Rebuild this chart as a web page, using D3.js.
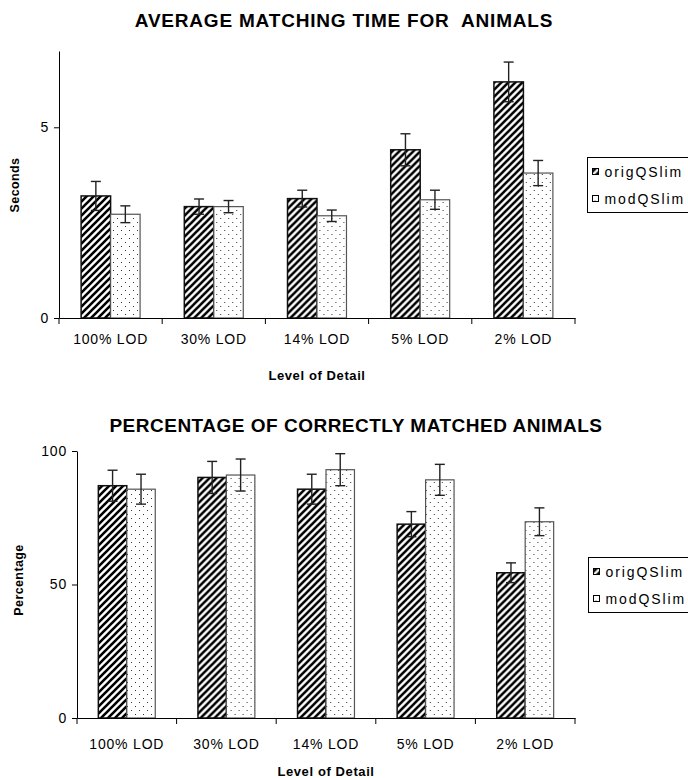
<!DOCTYPE html>
<html>
<head>
<meta charset="utf-8">
<script src="https://cdn.jsdelivr.net/npm/d3@7"></script>
<style>
  html, body { margin: 0; padding: 0; background: #fff; }
  svg { display: block; }
  text { font-family: "Liberation Sans", Arial, sans-serif; fill: #000; }
</style>
</head>
<body>
<svg id="chart" width="688" height="778"></svg>
<script>
// Level-of-detail categories shared by both panels
const categories = ["100% LOD", "30% LOD", "14% LOD", "5% LOD", "2% LOD"];
const seriesNames = ["origQSlim", "modQSlim"];

// Average matching time (seconds) with error half-widths
const timeOrig    = [3.20, 2.92, 3.13, 4.41, 6.19];
const timeOrigErr = [0.38, 0.20, 0.22, 0.42, 0.52];
const timeMod     = [2.72, 2.92, 2.68, 3.10, 3.80];
const timeModErr  = [0.22, 0.16, 0.15, 0.25, 0.33];
const timeTicks   = [0, 5];

// Percentage of correct matches with error half-widths
const pctOrig    = [87.0, 90.1, 85.7, 72.6, 54.4];
const pctOrigErr = [5.8, 6.0, 5.6, 4.7, 3.7];
const pctMod     = [85.7, 91.0, 93.0, 89.2, 73.5];
const pctModErr  = [5.6, 6.0, 6.0, 5.8, 5.2];
const pctTicks   = [0, 50, 100];

const svg = d3.select("#chart");
const defs = svg.append("defs");

// Diagonal hatch fill for origQSlim
const hatch = defs.append("pattern")
  .attr("id", "hatch").attr("patternUnits", "userSpaceOnUse")
  .attr("width", 7).attr("height", 7);
hatch.append("rect").attr("width", 7).attr("height", 7).attr("fill", "#fff");
hatch.append("path")
  .attr("d", "M-1,1 L1,-1 M0,7 L7,0 M6,8 L8,6")
  .attr("stroke", "#000").attr("stroke-width", 2.6);

// Sparse dot fill for modQSlim
const dots = defs.append("pattern")
  .attr("id", "dots").attr("patternUnits", "userSpaceOnUse")
  .attr("width", 8).attr("height", 8);
dots.append("rect").attr("width", 8).attr("height", 8).attr("fill", "#fff");
dots.append("rect").attr("x", 2).attr("y", 2).attr("width", 1).attr("height", 1).attr("fill", "#333");
dots.append("rect").attr("x", 6).attr("y", 6).attr("width", 1).attr("height", 1).attr("fill", "#333");

const fills = { origQSlim: "url(#hatch)", modQSlim: "url(#dots)" };
const strokes = { origQSlim: "#111", modQSlim: "#555" };

function drawPanel(p) {
  const g = svg.append("g");

  const x0 = d3.scaleBand().domain(categories).range(p.xRange).paddingInner(0).paddingOuter(0);
  const x1 = d3.scaleBand().domain(seriesNames).range([0, x0.bandwidth()])
    .paddingInner(0).paddingOuter(0.75);
  const y = d3.scaleLinear().domain(p.yDomain).range(p.yRange);

  const rows = categories.map((c, i) => ({
    cat: c,
    vals: [
      { s: "origQSlim", v: p.orig[i], e: p.origErr[i] },
      { s: "modQSlim",  v: p.mod[i],  e: p.modErr[i] }
    ]
  }));

  // bars
  const grp = g.selectAll("g.cat").data(rows).join("g")
    .attr("class", "cat")
    .attr("transform", d => `translate(${x0(d.cat)},0)`);

  grp.selectAll("rect").data(d => d.vals).join("rect")
    .attr("x", d => x1(d.s))
    .attr("y", d => y(d.v))
    .attr("width", x1.bandwidth())
    .attr("height", d => y(0) - y(d.v))
    .attr("fill", d => fills[d.s])
    .attr("stroke", d => strokes[d.s])
    .attr("stroke-width", d => d.s === "origQSlim" ? 1.5 : 1.2);

  // error bars
  const eb = grp.selectAll("g.err").data(d => d.vals).join("g").attr("class", "err")
    .attr("transform", d => `translate(${x1(d.s) + x1.bandwidth() / 2},0)`);
  eb.append("line")
    .attr("y1", d => y(d.v + d.e)).attr("y2", d => y(d.v - d.e))
    .attr("stroke", "#222").attr("stroke-width", 1.4);
  eb.append("line").attr("x1", -5).attr("x2", 5)
    .attr("y1", d => y(d.v + d.e)).attr("y2", d => y(d.v + d.e))
    .attr("stroke", "#222").attr("stroke-width", 1.4);
  eb.append("line").attr("x1", -5).attr("x2", 5)
    .attr("y1", d => y(d.v - d.e)).attr("y2", d => y(d.v - d.e))
    .attr("stroke", "#222").attr("stroke-width", 1.4);

  // y axis
  const yAxis = g.append("g")
    .attr("transform", `translate(${p.xRange[0]},0)`)
    .call(d3.axisLeft(y).tickValues(p.ticks).tickFormat(d3.format("d"))
      .tickSize(5).tickSizeOuter(0).tickPadding(5));
  yAxis.selectAll("text").attr("font-size", 14).style("letter-spacing", "0.8px")
    .attr("font-family", "Liberation Sans, Arial, sans-serif");
  yAxis.selectAll("path, line").attr("stroke", "#000");

  // x axis: baseline, boundary ticks and category labels
  const xAxis = g.append("g")
    .attr("transform", `translate(0,${y(0)})`)
    .call(d3.axisBottom(x0).tickSize(0).tickSizeOuter(0).tickPadding(p.xLabelPad));
  xAxis.select(".domain").attr("stroke", "#000");
  xAxis.selectAll("text").attr("font-size", 14).style("letter-spacing", "0.8px")
    .attr("font-family", "Liberation Sans, Arial, sans-serif");
  const bounds = categories.map(c => x0(c)).concat([x0(categories[categories.length - 1]) + x0.bandwidth()]);
  xAxis.selectAll("line.bound").data(bounds).join("line").attr("class", "bound")
    .attr("x1", d => d).attr("x2", d => d).attr("y1", 0).attr("y2", 6)
    .attr("stroke", "#000");

  // titles
  g.append("text").attr("x", p.titleX).attr("y", p.titleY)
    .attr("text-anchor", "middle").attr("font-weight", "bold")
    .attr("font-size", 19).style("letter-spacing", p.titleSpacing)
    .style("white-space", "pre")
    .text(p.title);
  g.append("text").attr("x", (p.xRange[0] + p.xRange[1]) / 2).attr("y", p.xTitleY)
    .attr("text-anchor", "middle").attr("font-weight", "bold")
    .attr("font-size", 13).style("letter-spacing", "0.6px")
    .text("Level of Detail");
  g.append("text")
    .attr("transform", `translate(${p.yTitleX},${p.yTitleY}) rotate(-90)`)
    .attr("text-anchor", "middle").attr("font-weight", "bold")
    .attr("font-size", 12.5).style("letter-spacing", "0.4px")
    .text(p.yTitle);

  // legend
  const lg = g.append("g").attr("transform", `translate(${p.legendX},${p.legendY})`);
  lg.append("rect").attr("width", 110).attr("height", 55)
    .attr("fill", "#fff").attr("stroke", "#000").attr("stroke-width", 1);
  const items = lg.selectAll("g.item").data(seriesNames).join("g").attr("class", "item")
    .attr("transform", (d, i) => `translate(5,${14 + i * 27})`);
  items.append("rect").attr("x", 0).attr("y", -3).attr("width", 6).attr("height", 6)
    .attr("fill", d => fills[d]).attr("stroke", "#000").attr("stroke-width", 1);
  items.append("text").attr("x", 12).attr("dy", "0.36em")
    .attr("font-size", 14).style("letter-spacing", "1.9px")
    .text(d => d);
}

drawPanel({
  title: "AVERAGE MATCHING TIME FOR  ANIMALS",
  titleX: 344, titleY: 27, titleSpacing: "0.8px",
  xRange: [59, 575], yDomain: [0, 7], yRange: [318, 51],
  ticks: timeTicks, xLabelPad: 16,
  orig: timeOrig, origErr: timeOrigErr, mod: timeMod, modErr: timeModErr,
  xTitleY: 380, yTitle: "Seconds", yTitleX: 19, yTitleY: 185,
  legendX: 587.5, legendY: 157.5
});

drawPanel({
  title: "PERCENTAGE OF CORRECTLY MATCHED ANIMALS",
  titleX: 356, titleY: 432, titleSpacing: "0.5px",
  xRange: [77, 575], yDomain: [0, 100], yRange: [718, 451],
  ticks: pctTicks, xLabelPad: 21,
  orig: pctOrig, origErr: pctOrigErr, mod: pctMod, modErr: pctModErr,
  xTitleY: 776, yTitle: "Percentage", yTitleX: 23, yTitleY: 580,
  legendX: 588.5, legendY: 557.5
});
</script>
</body>
</html>
